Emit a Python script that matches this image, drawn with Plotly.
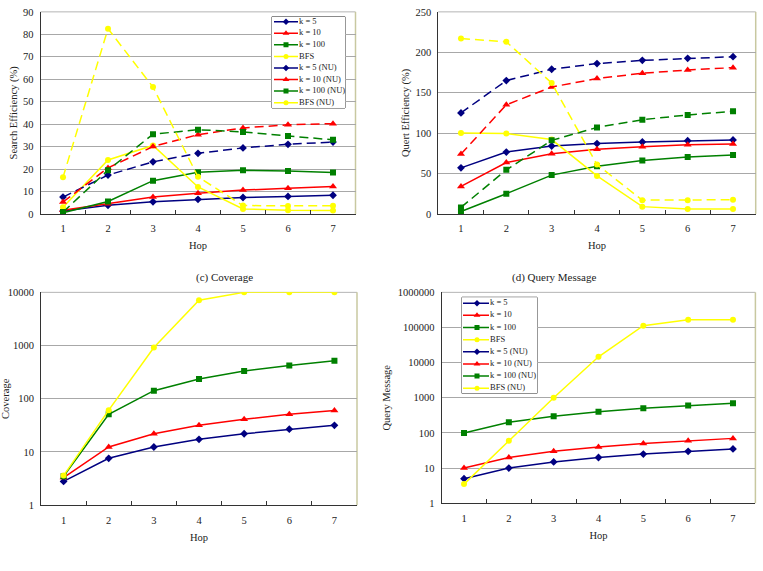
import plotly.graph_objects as go

W, H = 763, 571
FONT = "Liberation Serif"

hops = [1, 2, 3, 4, 5, 6, 7]
series_names = ["k = 5", "k = 10", "k = 100", "BFS",
                "k = 5 (NU)", "k = 10 (NU)", "k = 100 (NU)", "BFS (NU)"]

# (a) Search Efficiency (%)
se_k5 = [1.3, 3.8, 5.4, 6.5, 7.3, 7.8, 8.3]
se_k10 = [1.6, 4.5, 7.5, 9.2, 10.6, 11.4, 12.2]
se_k100 = [0.5, 5.5, 14.8, 18.6, 19.4, 19.1, 18.4]
se_bfs = [3.0, 24.0, 30.5, 12.0, 2.2, 1.6, 1.5]
se_k5_nu = [7.5, 17.3, 23.2, 27.0, 29.4, 31.0, 32.0]
se_k10_nu = [5.3, 20.5, 30.0, 35.3, 38.3, 39.7, 40.2]
se_k100_nu = [0.8, 19.5, 35.5, 37.5, 36.5, 34.7, 33.0]
se_bfs_nu = [16.3, 82.5, 56.5, 16.5, 3.7, 3.5, 3.6]

# (b) Query Efficiency (%)
qe_k5 = [57, 76.5, 84, 87, 89, 90.5, 91.5]
qe_k10 = [34, 63.5, 74.5, 80, 83, 85.5, 86.5]
qe_k100 = [3, 25, 48, 59, 66, 70.5, 73]
qe_bfs = [100, 99.5, 92, 47, 9, 6, 6]
qe_k5_nu = [125, 165, 179, 186, 190, 192.5, 194.5]
qe_k10_nu = [74, 135, 157, 167.5, 174, 178, 181]
qe_k100_nu = [8, 54.5, 91, 107, 116.5, 122.5, 127]
qe_bfs_nu = [217, 213, 162, 61, 17, 17, 17.5]

# (c) Coverage
cov_k5 = [2.8, 7.6, 12.4, 17.3, 22, 26.8, 31.7]
cov_k10 = [3.3, 12.4, 22, 31.7, 41, 51, 60]
cov_k100 = [3.5, 51, 142, 236, 333, 424, 520]
cov_bfs = [3.6, 61, 920, 7100, 10000, 10000, 10000]

# (d) Query Message
qm_k5 = [5, 10, 15, 20, 25, 30, 35]
qm_k10 = [10, 20, 30, 40, 50, 60, 70]
qm_k100 = [100, 200, 300, 400, 500, 600, 700]
qm_bfs = [3.5, 60, 1000, 14700, 113000, 165000, 165000]

colors = ["#000080", "#FF0000", "#008000", "#FFFF00"] * 2
symbols = ["diamond", "triangle-up", "square", "circle"] * 2
msizes = [6, 7, 6, 6] * 2
dashes = ["solid"] * 4 + ["dash"] * 4

fig = go.Figure()


def px_x(p):
    return p / W


def px_y(p):
    return 1 - p / H


panels = {
    1: dict(x=(40.5, 355.5), y=(7, 213)),
    2: dict(x=(438.3, 755.7), y=(7, 213)),
    3: dict(x=(41, 357), y=(293, 510)),
    4: dict(x=(441.6, 755.4), y=(293, 508)),
}


def add_series(idx, ys_list, names_idx):
    for ys, i in zip(ys_list, names_idx):
        fig.add_trace(go.Scatter(
            x=hops, y=ys, mode="lines+markers", name=series_names[i],
            xaxis="x" if idx == 1 else f"x{idx}",
            yaxis="y" if idx == 1 else f"y{idx}",
            line=dict(color=colors[i], width=1.5, dash="9px,5px" if dashes[i] == "dash" else "solid"),
            marker=dict(color=colors[i], symbol=symbols[i], size=msizes[i]),
            showlegend=False, hoverinfo="x+y+name"))


add_series(1, [se_k5, se_k10, se_k100, se_bfs, se_k5_nu, se_k10_nu, se_k100_nu, se_bfs_nu], range(8))
add_series(2, [qe_k5, qe_k10, qe_k100, qe_bfs, qe_k5_nu, qe_k10_nu, qe_k100_nu, qe_bfs_nu], range(8))
add_series(3, [cov_k5, cov_k10, cov_k100, cov_bfs], range(4))
add_series(4, [qm_k5, qm_k10, qm_k100, qm_bfs], range(4))

tickfont = dict(family=FONT, size=10.5, color="#222")
titlefont = dict(family=FONT, size=10.5, color="#222")

layout = dict(
    width=W, height=H, margin=dict(l=0, r=0, t=0, b=0),
    paper_bgcolor="white", plot_bgcolor="white",
    font=dict(family=FONT, size=10.5, color="#222"),
    showlegend=False,
)

ycfg = {
    1: dict(range=[0, 90], dtick=10, type="linear", title="Search Efficiency (%)", standoff=3),
    2: dict(range=[0, 250], dtick=50, type="linear", title="Quert Efficiency (%)", standoff=3),
    3: dict(range=[0, 4], dtick=1, type="log", title="Coverage", standoff=0),
    4: dict(range=[0, 6], dtick=1, type="log", title="Query Message", standoff=5),
}

for idx, p in panels.items():
    xs = "xaxis" if idx == 1 else f"xaxis{idx}"
    ys = "yaxis" if idx == 1 else f"yaxis{idx}"
    yname = "y" if idx == 1 else f"y{idx}"
    xname = "x" if idx == 1 else f"x{idx}"
    layout[xs] = dict(
        domain=[px_x(p["x"][0]), px_x(p["x"][1])], anchor=yname,
        range=[0.5, 7.5], tickvals=hops, ticktext=[str(h) for h in hops],
        showgrid=False, zeroline=False, showline=True, linecolor="#333", linewidth=1,
        ticks="", tickfont=tickfont, ticklabelstandoff=5,
        title=dict(text="Hop", font=titlefont, standoff=8),
        minor=dict(tickvals=[1.5, 2.5, 3.5, 4.5, 5.5, 6.5], ticks="inside", ticklen=4,
                   tickcolor="#333", showgrid=False),
    )
    c = ycfg[idx]
    layout[ys] = dict(
        domain=[px_y(p["y"][1]), px_y(p["y"][0])], anchor=xname,
        type=c["type"], range=c["range"], dtick=c["dtick"],
        showgrid=True, gridcolor="#a8a8a8", gridwidth=1,
        zeroline=False, showline=True, linecolor="#333", linewidth=1,
        ticks="", tickfont=tickfont, ticklabelstandoff=4,
        title=dict(text=c["title"], font=titlefont, standoff=c["standoff"]),
    )
    if c["type"] == "log":
        layout[ys]["tickformat"] = "d"

fig.update_layout(**layout)

# frame top/right borders
for idx in panels:
    xr = "x domain" if idx == 1 else f"x{idx} domain"
    yr = "y domain" if idx == 1 else f"y{idx} domain"
    fig.add_shape(type="line", xref=xr, yref=yr, x0=0, x1=1, y0=1, y1=1,
                  line=dict(color="#b4b4b4", width=1), layer="below")
    fig.add_shape(type="line", xref=xr, yref=yr, x0=1, x1=1, y0=0, y1=1,
                  line=dict(color="#c8c8a0", width=1.5), layer="below")

# subplot titles
fig.add_annotation(text="(c) Coverage", x=px_x(194), y=px_y(278), xref="paper", yref="paper",
                   showarrow=False, font=dict(family=FONT, size=11, color="#222"))
fig.add_annotation(text="(d) Query Message", x=px_x(598), y=px_y(278), xref="paper", yref="paper",
                   showarrow=False, font=dict(family=FONT, size=11, color="#222"))

# manual legends drawn on overlay axes (box in pixel units)
legend_boxes = {
    5: dict(x=(272, 345), y=(12, 105), line=(2, 26), mark=14, text=27, row0=5.0, rowh=11.8),
    6: dict(x=(462, 537), y=(298, 396), line=(1, 27), mark=15, text=28, row0=6.0, rowh=12.4),
}
for ax, b in legend_boxes.items():
    wpx = b["x"][1] - b["x"][0]
    hpx = b["y"][1] - b["y"][0]
    fig.update_layout(**{
        f"xaxis{ax}": dict(domain=[px_x(b["x"][0]), px_x(b["x"][1])], range=[0, wpx],
                           visible=False, anchor=f"y{ax}", fixedrange=True),
        f"yaxis{ax}": dict(domain=[px_y(b["y"][1]), px_y(b["y"][0])], range=[hpx, 0],
                           visible=False, anchor=f"x{ax}", fixedrange=True),
    })
    fig.add_shape(type="rect", xref=f"x{ax} domain", yref=f"y{ax} domain", x0=0, x1=1, y0=0, y1=1,
                  line=dict(color="#333", width=1), fillcolor="white", layer="below")
    for i, nm in enumerate(series_names):
        ry = b["row0"] + b["rowh"] * i
        fig.add_trace(go.Scatter(
            x=[b["line"][0], b["line"][1]], y=[ry, ry], mode="lines",
            line=dict(color=colors[i], width=1.5), xaxis=f"x{ax}", yaxis=f"y{ax}",
            showlegend=False, hoverinfo="skip"))
        fig.add_trace(go.Scatter(
            x=[b["mark"]], y=[ry], mode="markers",
            marker=dict(color=colors[i], symbol=symbols[i], size=msizes[i] - 1),
            xaxis=f"x{ax}", yaxis=f"y{ax}", showlegend=False, hoverinfo="skip"))
        fig.add_trace(go.Scatter(
            x=[b["text"]], y=[ry], mode="text", text=[nm], textposition="middle right",
            textfont=dict(family=FONT, size=8.5, color="#222"), cliponaxis=False,
            xaxis=f"x{ax}", yaxis=f"y{ax}", showlegend=False, hoverinfo="skip"))

fig.write_html("out.html")
